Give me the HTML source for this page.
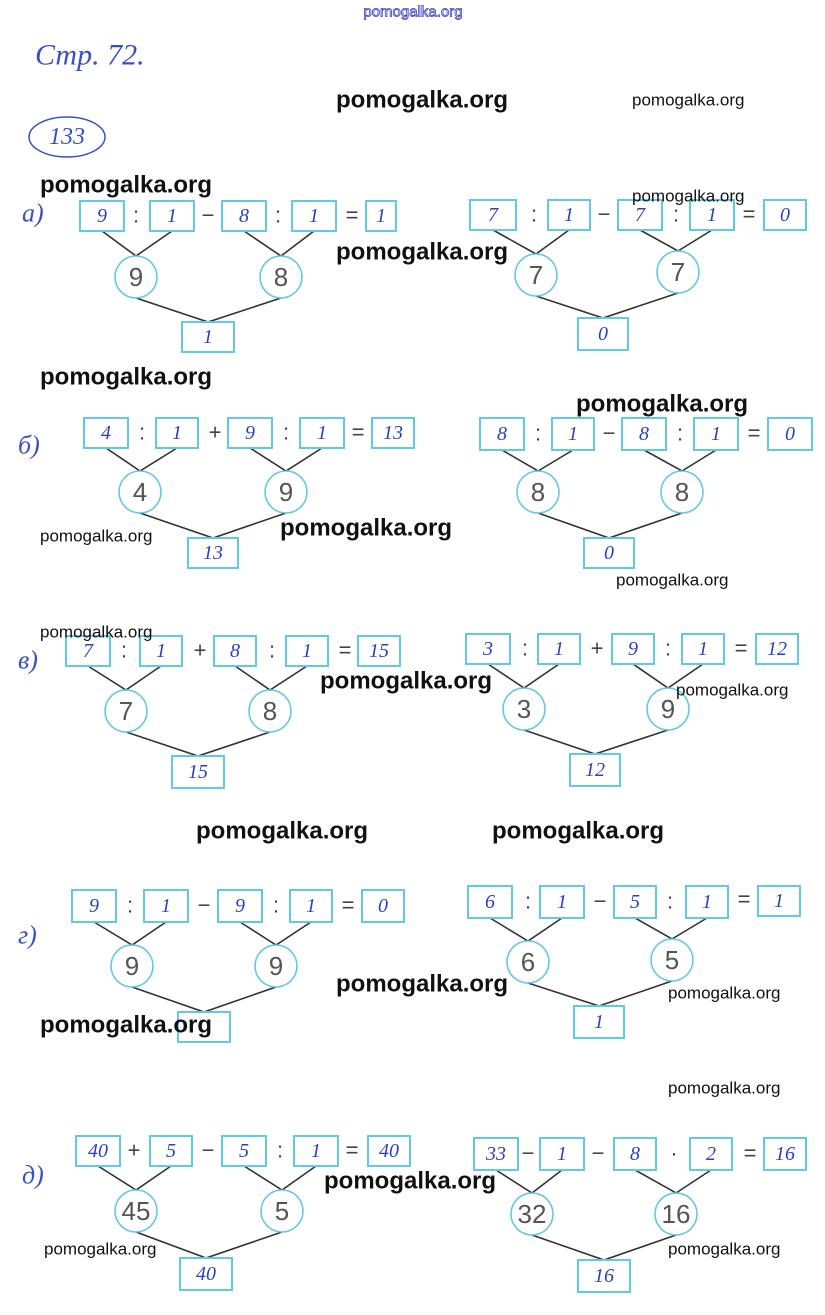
<!DOCTYPE html>
<html><head><meta charset="utf-8"><style>
html,body{margin:0;padding:0;background:#fff}
svg{display:block}
.b{fill:#fff;stroke:#62c9e2;stroke-width:2}
.c{fill:#fff;stroke:#62c9e2;stroke-width:1.6}
.l{stroke:#333;stroke-width:1.6;fill:none}
.d{font-family:"Liberation Serif",serif;font-style:italic;font-size:20px;fill:#2b3fbf;text-anchor:middle;dominant-baseline:central}
.o{font-family:"Liberation Sans",sans-serif;font-size:22px;fill:#444;text-anchor:middle;dominant-baseline:central}
.n{font-family:"Liberation Sans",sans-serif;font-size:26px;fill:#555;text-anchor:middle;dominant-baseline:central}
.w{font-family:"Liberation Sans",sans-serif;font-weight:bold;font-size:24px;fill:#111;dominant-baseline:central}
.s{font-family:"Liberation Sans",sans-serif;font-size:17px;fill:#111;dominant-baseline:central}
.h{font-family:"Liberation Serif",serif;font-style:italic;fill:#3a4fc4;dominant-baseline:central}
</style></head><body>
<svg width="825" height="1315" viewBox="0 0 825 1315" xmlns="http://www.w3.org/2000/svg">
<text x="413" y="12" font-family="Liberation Sans,sans-serif" font-size="15" fill="#fff" stroke="#3a3fc8" stroke-width="0.8" text-anchor="middle" dominant-baseline="central">pomogalka.org</text>
<text class="h" x="35" y="55" font-size="30">Стр. 72.</text>
<ellipse cx="67" cy="137" rx="38" ry="20" fill="none" stroke="#3a4fc4" stroke-width="1.5"/>
<text class="h" x="67" y="137" font-size="24" text-anchor="middle">133</text>
<text class="h" x="22" y="213" font-size="26">а)</text>
<text class="h" x="18" y="445" font-size="26">б)</text>
<text class="h" x="18" y="660" font-size="26">в)</text>
<text class="h" x="18" y="935" font-size="26">г)</text>
<text class="h" x="22" y="1175" font-size="26">д)</text>

<g class="l"><path d="M102 231L136 256L172 231M244 231L281 256L314 231M136 298L208 322L281 298"/></g>
<rect class="b" x="80" y="201" width="44" height="30"/><text class="d" x="102" y="216">9</text>
<text class="o" x="136" y="215">:</text>
<rect class="b" x="150" y="201" width="44" height="30"/><text class="d" x="172" y="216">1</text>
<text class="o" x="208" y="215">−</text>
<rect class="b" x="222" y="201" width="44" height="30"/><text class="d" x="244" y="216">8</text>
<text class="o" x="278" y="215">:</text>
<rect class="b" x="292" y="201" width="44" height="30"/><text class="d" x="314" y="216">1</text>
<text class="o" x="352" y="215">=</text>
<rect class="b" x="366" y="201" width="30" height="30"/><text class="d" x="381" y="216">1</text>
<circle class="c" cx="136" cy="277" r="21"/><text class="n" x="136" y="277">9</text>
<circle class="c" cx="281" cy="277" r="21"/><text class="n" x="281" y="277">8</text>
<rect class="b" x="182" y="322" width="52" height="30"/><text class="d" x="208" y="337">1</text>

<g class="l"><path d="M493 230L536 254L569 230M640 230L678 251L712 230M536 296L603 318L678 293"/></g>
<rect class="b" x="470" y="200" width="46" height="30"/><text class="d" x="493" y="215">7</text>
<text class="o" x="534" y="214">:</text>
<rect class="b" x="548" y="200" width="42" height="30"/><text class="d" x="569" y="215">1</text>
<text class="o" x="604" y="214">−</text>
<rect class="b" x="618" y="200" width="44" height="30"/><text class="d" x="640" y="215">7</text>
<text class="o" x="676" y="214">:</text>
<rect class="b" x="690" y="200" width="44" height="30"/><text class="d" x="712" y="215">1</text>
<text class="o" x="749" y="214">=</text>
<rect class="b" x="764" y="200" width="42" height="30"/><text class="d" x="785" y="215">0</text>
<circle class="c" cx="536" cy="275" r="21"/><text class="n" x="536" y="275">7</text>
<circle class="c" cx="678" cy="272" r="21"/><text class="n" x="678" y="272">7</text>
<rect class="b" x="578" y="318" width="50" height="32"/><text class="d" x="603" y="334">0</text>

<g class="l"><path d="M106 448L140 471L177 448M250 448L286 471L322 448M140 513L213 538L286 513"/></g>
<rect class="b" x="84" y="418" width="44" height="30"/><text class="d" x="106" y="433">4</text>
<text class="o" x="142" y="432">:</text>
<rect class="b" x="156" y="418" width="42" height="30"/><text class="d" x="177" y="433">1</text>
<text class="o" x="215" y="432">+</text>
<rect class="b" x="228" y="418" width="44" height="30"/><text class="d" x="250" y="433">9</text>
<text class="o" x="286" y="432">:</text>
<rect class="b" x="300" y="418" width="44" height="30"/><text class="d" x="322" y="433">1</text>
<text class="o" x="358" y="432">=</text>
<rect class="b" x="372" y="418" width="42" height="30"/><text class="d" x="393" y="433">13</text>
<circle class="c" cx="140" cy="492" r="21"/><text class="n" x="140" y="492">4</text>
<circle class="c" cx="286" cy="492" r="21"/><text class="n" x="286" y="492">9</text>
<rect class="b" x="188" y="538" width="50" height="30"/><text class="d" x="213" y="553">13</text>

<g class="l"><path d="M502 450L538 471L573 450M644 450L682 471L716 450M538 513L609 538L682 513"/></g>
<rect class="b" x="480" y="418" width="44" height="32"/><text class="d" x="502" y="434">8</text>
<text class="o" x="538" y="433">:</text>
<rect class="b" x="552" y="418" width="42" height="32"/><text class="d" x="573" y="434">1</text>
<text class="o" x="609" y="433">−</text>
<rect class="b" x="622" y="418" width="44" height="32"/><text class="d" x="644" y="434">8</text>
<text class="o" x="680" y="433">:</text>
<rect class="b" x="694" y="418" width="44" height="32"/><text class="d" x="716" y="434">1</text>
<text class="o" x="754" y="433">=</text>
<rect class="b" x="768" y="418" width="44" height="32"/><text class="d" x="790" y="434">0</text>
<circle class="c" cx="538" cy="492" r="21"/><text class="n" x="538" y="492">8</text>
<circle class="c" cx="682" cy="492" r="21"/><text class="n" x="682" y="492">8</text>
<rect class="b" x="584" y="538" width="50" height="30"/><text class="d" x="609" y="553">0</text>

<g class="l"><path d="M88 666L126 690L161 666M235 666L270 690L307 666M126 732L198 756L270 732"/></g>
<rect class="b" x="66" y="636" width="44" height="30"/><text class="d" x="88" y="651">7</text>
<text class="o" x="124" y="650">:</text>
<rect class="b" x="140" y="636" width="42" height="30"/><text class="d" x="161" y="651">1</text>
<text class="o" x="200" y="650">+</text>
<rect class="b" x="214" y="636" width="42" height="30"/><text class="d" x="235" y="651">8</text>
<text class="o" x="272" y="650">:</text>
<rect class="b" x="286" y="636" width="42" height="30"/><text class="d" x="307" y="651">1</text>
<text class="o" x="345" y="650">=</text>
<rect class="b" x="358" y="636" width="42" height="30"/><text class="d" x="379" y="651">15</text>
<circle class="c" cx="126" cy="711" r="21"/><text class="n" x="126" y="711">7</text>
<circle class="c" cx="270" cy="711" r="21"/><text class="n" x="270" y="711">8</text>
<rect class="b" x="172" y="756" width="52" height="32"/><text class="d" x="198" y="772">15</text>

<g class="l"><path d="M488 664L524 688L559 664M633 664L668 688L703 664M524 730L595 754L668 730"/></g>
<rect class="b" x="466" y="634" width="44" height="30"/><text class="d" x="488" y="649">3</text>
<text class="o" x="525" y="648">:</text>
<rect class="b" x="538" y="634" width="42" height="30"/><text class="d" x="559" y="649">1</text>
<text class="o" x="597" y="648">+</text>
<rect class="b" x="612" y="634" width="42" height="30"/><text class="d" x="633" y="649">9</text>
<text class="o" x="668" y="648">:</text>
<rect class="b" x="682" y="634" width="42" height="30"/><text class="d" x="703" y="649">1</text>
<text class="o" x="741" y="648">=</text>
<rect class="b" x="756" y="634" width="42" height="30"/><text class="d" x="777" y="649">12</text>
<circle class="c" cx="524" cy="709" r="21"/><text class="n" x="524" y="709">3</text>
<circle class="c" cx="668" cy="709" r="21"/><text class="n" x="668" y="709">9</text>
<rect class="b" x="570" y="754" width="50" height="32"/><text class="d" x="595" y="770">12</text>

<g class="l"><path d="M94 922L132 945L166 922M240 922L276 945L311 922M132 987L204 1012L276 987"/></g>
<rect class="b" x="72" y="890" width="44" height="32"/><text class="d" x="94" y="906">9</text>
<text class="o" x="130" y="905">:</text>
<rect class="b" x="144" y="890" width="44" height="32"/><text class="d" x="166" y="906">1</text>
<text class="o" x="204" y="905">−</text>
<rect class="b" x="218" y="890" width="44" height="32"/><text class="d" x="240" y="906">9</text>
<text class="o" x="276" y="905">:</text>
<rect class="b" x="290" y="890" width="42" height="32"/><text class="d" x="311" y="906">1</text>
<text class="o" x="348" y="905">=</text>
<rect class="b" x="362" y="890" width="42" height="32"/><text class="d" x="383" y="906">0</text>
<circle class="c" cx="132" cy="966" r="21"/><text class="n" x="132" y="966">9</text>
<circle class="c" cx="276" cy="966" r="21"/><text class="n" x="276" y="966">9</text>
<rect class="b" x="178" y="1012" width="52" height="30"/>

<g class="l"><path d="M490 918L528 941L562 918M635 918L672 939L707 918M528 983L599 1006L672 981"/></g>
<rect class="b" x="468" y="886" width="44" height="32"/><text class="d" x="490" y="902">6</text>
<text class="o" x="528" y="901">:</text>
<rect class="b" x="540" y="886" width="44" height="32"/><text class="d" x="562" y="902">1</text>
<text class="o" x="600" y="901">−</text>
<rect class="b" x="614" y="886" width="42" height="32"/><text class="d" x="635" y="902">5</text>
<text class="o" x="670" y="901">:</text>
<rect class="b" x="686" y="886" width="42" height="32"/><text class="d" x="707" y="902">1</text>
<text class="o" x="744" y="899">=</text>
<rect class="b" x="758" y="886" width="42" height="30"/><text class="d" x="779" y="901">1</text>
<circle class="c" cx="528" cy="962" r="21"/><text class="n" x="528" y="962">6</text>
<circle class="c" cx="672" cy="960" r="21"/><text class="n" x="672" y="960">5</text>
<rect class="b" x="574" y="1006" width="50" height="32"/><text class="d" x="599" y="1022">1</text>

<g class="l"><path d="M98 1166L136 1190L171 1166M244 1166L282 1190L316 1166M136 1232L206 1258L282 1232"/></g>
<rect class="b" x="76" y="1136" width="44" height="30"/><text class="d" x="98" y="1151">40</text>
<text class="o" x="134" y="1150">+</text>
<rect class="b" x="150" y="1136" width="42" height="30"/><text class="d" x="171" y="1151">5</text>
<text class="o" x="208" y="1150">−</text>
<rect class="b" x="222" y="1136" width="44" height="30"/><text class="d" x="244" y="1151">5</text>
<text class="o" x="280" y="1150">:</text>
<rect class="b" x="294" y="1136" width="44" height="30"/><text class="d" x="316" y="1151">1</text>
<text class="o" x="352" y="1150">=</text>
<rect class="b" x="368" y="1136" width="42" height="30"/><text class="d" x="389" y="1151">40</text>
<circle class="c" cx="136" cy="1211" r="21"/><text class="n" x="136" y="1211">45</text>
<circle class="c" cx="282" cy="1211" r="21"/><text class="n" x="282" y="1211">5</text>
<rect class="b" x="180" y="1258" width="52" height="32"/><text class="d" x="206" y="1274">40</text>

<g class="l"><path d="M496 1170L532 1193L562 1170M635 1170L676 1193L711 1170M532 1235L604 1260L676 1235"/></g>
<rect class="b" x="474" y="1138" width="44" height="32"/><text class="d" x="496" y="1154">33</text>
<text class="o" x="528" y="1153">−</text>
<rect class="b" x="540" y="1138" width="44" height="32"/><text class="d" x="562" y="1154">1</text>
<text class="o" x="598" y="1153">−</text>
<rect class="b" x="614" y="1138" width="42" height="32"/><text class="d" x="635" y="1154">8</text>
<text class="o" x="674" y="1153">·</text>
<rect class="b" x="690" y="1138" width="42" height="32"/><text class="d" x="711" y="1154">2</text>
<text class="o" x="750" y="1153">=</text>
<rect class="b" x="764" y="1138" width="42" height="32"/><text class="d" x="785" y="1154">16</text>
<circle class="c" cx="532" cy="1214" r="21"/><text class="n" x="532" y="1214">32</text>
<circle class="c" cx="676" cy="1214" r="21"/><text class="n" x="676" y="1214">16</text>
<rect class="b" x="578" y="1260" width="52" height="32"/><text class="d" x="604" y="1276">16</text>

<text class="w" x="336" y="100">pomogalka.org</text>
<text class="w" x="40" y="185">pomogalka.org</text>
<text class="w" x="336" y="252">pomogalka.org</text>
<text class="w" x="40" y="377">pomogalka.org</text>
<text class="w" x="576" y="404">pomogalka.org</text>
<text class="w" x="280" y="528">pomogalka.org</text>
<text class="w" x="320" y="681">pomogalka.org</text>
<text class="w" x="196" y="831">pomogalka.org</text>
<text class="w" x="492" y="831">pomogalka.org</text>
<text class="w" x="336" y="984">pomogalka.org</text>
<text class="w" x="40" y="1025">pomogalka.org</text>
<text class="w" x="324" y="1181">pomogalka.org</text>
<text class="s" x="632" y="100">pomogalka.org</text>
<text class="s" x="632" y="196">pomogalka.org</text>
<text class="s" x="40" y="536">pomogalka.org</text>
<text class="s" x="616" y="580">pomogalka.org</text>
<text class="s" x="40" y="632">pomogalka.org</text>
<text class="s" x="676" y="690" font-size="13">pomogalka.org</text>
<text class="s" x="668" y="993">pomogalka.org</text>
<text class="s" x="668" y="1088">pomogalka.org</text>
<text class="s" x="44" y="1249">pomogalka.org</text>
<text class="s" x="668" y="1249">pomogalka.org</text>
</svg>
</body></html>
